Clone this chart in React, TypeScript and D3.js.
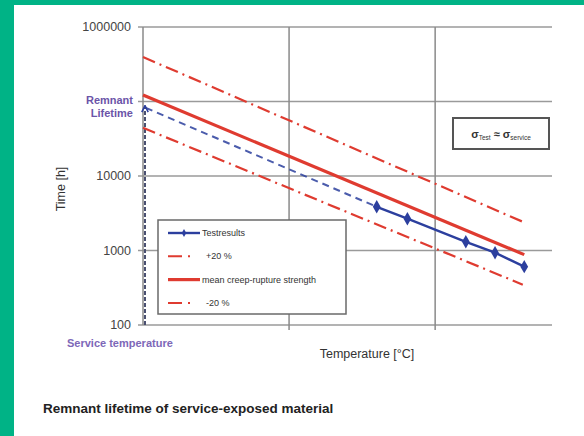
import * as d3 from "d3"

// temperature in grid units (axis has no numeric labels), time in hours
const Y_TICKS = [100, 1000, 10000, 100000, 1000000]
const Y_LABELS = ["100", "1000", "10000", "", "1000000"]
const X_GRID = [1, 2]

const UPPER_T = [0, 2.6]
const UPPER_H = [396000, 2430]
const MEAN_T = [0, 2.61]
const MEAN_H = [122000, 880]
const LOWER_T = [0, 2.6]
const LOWER_H = [44300, 348]

const TEST_T = [1.6, 1.81, 2.21, 2.41, 2.61]
const TEST_H = [3860, 2670, 1310, 935, 607]
const EXTRAP_T = [0.02, 1.6]
const EXTRAP_H = [82000, 3860]

const LEGEND = ["Testresults", "+20 %", "mean creep-rupture strength", "-20 %"]

const RED = "#df3b30"
const BLUE = "#2c3f9e"
const PURPLE = "#6b54a8"
const FONT = "Liberation Sans, Arial, sans-serif"

type Pt = [number, number]
const zip = (a: number[], b: number[]): Pt[] => a.map((v, i) => [v, b[i]])

export default function App() {
  const x = d3.scaleLinear().domain([0, 2.8]).range([143, 552])
  const y = d3.scaleLog().domain([100, 1000000]).range([325, 27])
  const line = d3.line<Pt>().x((d) => x(d[0])).y((d) => y(d[1]))
  const diamond = d3.symbol().type(d3.symbolDiamond).size(52)()

  const dashDot = "13,5,2,5"

  return (
    <svg width={584} height={436} style={{ position: "absolute", left: 0, top: 0 }} fontFamily={FONT}>
      <defs>
        <marker id="arr" viewBox="0 0 10 10" refX={9} refY={5} markerWidth={4} markerHeight={4} orient="auto">
          <path d="M1,1 L9,5 L1,9" fill="none" stroke={BLUE} strokeWidth={2} />
        </marker>
      </defs>
      <rect width={584} height={436} fill="#00b386" />
      <rect x={14} y={5} width={570} height={431} fill="#fff" />

      {/* grid */}
      {Y_TICKS.map((t, i) => (
        <g key={t}>
          <line x1={138} x2={552} y1={y(t)} y2={y(t)} stroke="#9a9a9a" strokeWidth={1.5} />
          <text x={131} y={y(t)} dy="0.35em" textAnchor="end" fontSize={12.5} fill="#444">
            {Y_LABELS[i]}
          </text>
        </g>
      ))}
      {X_GRID.map((t) => (
        <line key={t} x1={x(t)} x2={x(t)} y1={y(1000000)} y2={330} stroke="#8a8a8a" strokeWidth={1.5} />
      ))}
      <line x1={143} x2={143} y1={27} y2={325} stroke="#8a8a8a" strokeWidth={1.5} />

      {/* service temperature marker */}
      <line x1={145} x2={145} y1={325} y2={y(88000)} stroke="#4a5070" strokeWidth={2} strokeDasharray="4,2" markerEnd="url(#arr)" />

      {/* bands and mean */}
      <path d={line(zip(UPPER_T, UPPER_H)) ?? ""} fill="none" stroke={RED} strokeWidth={2.2} strokeDasharray={dashDot} />
      <path d={line(zip(LOWER_T, LOWER_H)) ?? ""} fill="none" stroke={RED} strokeWidth={2.2} strokeDasharray={dashDot} />
      <path d={line(zip(MEAN_T, MEAN_H)) ?? ""} fill="none" stroke={RED} strokeWidth={3.2} />

      {/* test results */}
      <path d={line(zip(EXTRAP_T, EXTRAP_H)) ?? ""} fill="none" stroke={BLUE} strokeWidth={2} strokeDasharray="7,5" opacity={0.85} />
      <path d={line(zip(TEST_T, TEST_H)) ?? ""} fill="none" stroke={BLUE} strokeWidth={2.4} />
      {zip(TEST_T, TEST_H).map((d, i) => (
        <path key={i} d={diamond ?? ""} transform={`translate(${x(d[0])},${y(d[1])})`} fill={BLUE} />
      ))}

      {/* legend */}
      <g>
        <rect x={158} y={220} width={188} height={94} fill="#fff" stroke="#6a6a6a" strokeWidth={1.5} />
        {LEGEND.map((label, i) => {
          const ly = 233 + i * 23.3
          return (
            <g key={label}>
              {i === 0 && (
                <>
                  <line x1={168} x2={200} y1={ly} y2={ly} stroke={BLUE} strokeWidth={2.4} />
                  <path d={d3.symbol().type(d3.symbolDiamond).size(18)() ?? ""} transform={`translate(184,${ly})`} fill={BLUE} />
                </>
              )}
              {(i === 1 || i === 3) && (
                <line x1={168} x2={200} y1={ly} y2={ly} stroke={RED} strokeWidth={2} strokeDasharray="14,6,2,20" />
              )}
              {i === 2 && <line x1={168} x2={200} y1={ly} y2={ly} stroke={RED} strokeWidth={3.2} />}
              <text x={i === 0 || i === 2 ? 202 : 206} y={ly} dy="0.35em" fontSize={9} fill="#333">
                {label}
              </text>
            </g>
          )
        })}
      </g>

      {/* sigma box */}
      <rect x={453} y={118} width={96} height={31} fill="#fff" stroke="#555" strokeWidth={2} />
      <text x={501} y={138} textAnchor="middle" fontSize={11} fill="#333" fontWeight="bold">
        σ<tspan fontSize={6.5} fontWeight="normal" dy={2}>Test</tspan>
        <tspan dy={-2}> ≈ </tspan>σ<tspan fontSize={6.5} fontWeight="normal" dy={2}>service</tspan>
      </text>

      {/* annotations */}
      <text x={133} y={104} textAnchor="end" fontSize={11} fontWeight="bold" fill={PURPLE}>Remnant</text>
      <text x={133} y={117} textAnchor="end" fontSize={11} fontWeight="bold" fill={PURPLE}>Lifetime</text>
      <text x={67} y={347} fontSize={11} fontWeight="bold" fill="#7d67b8">Service temperature</text>
      <text x={367} y={358} textAnchor="middle" fontSize={12.5} fill="#333">Temperature [°C]</text>
      <text transform="translate(65,189) rotate(-90)" textAnchor="middle" fontSize={12.5} fill="#333">Time [h]</text>

      <text x={43} y={413} fontSize={13.5} fontWeight="bold" fill="#222">Remnant lifetime of service-exposed material</text>
    </svg>
  )
}
